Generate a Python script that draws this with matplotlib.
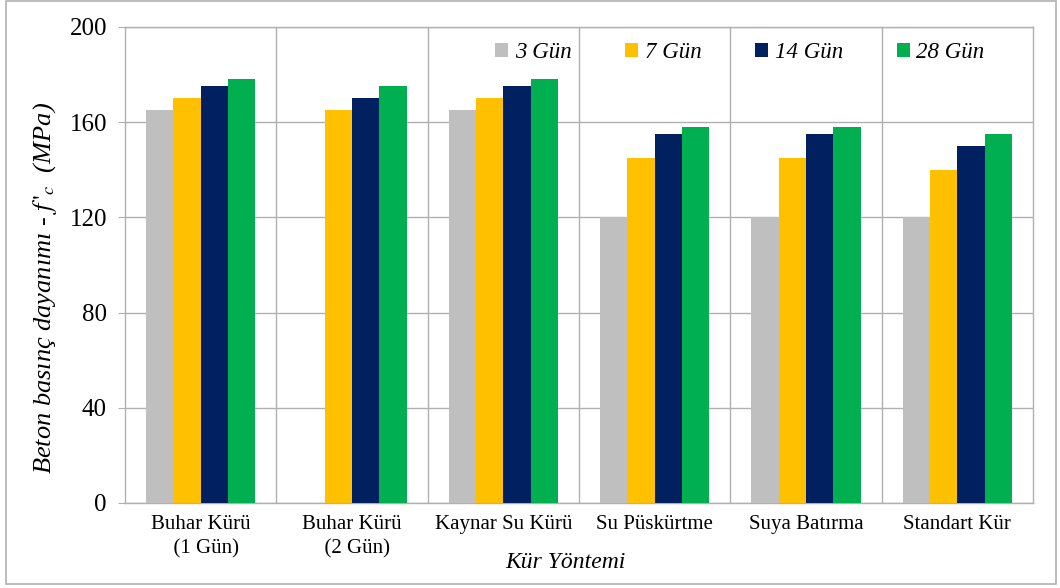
import numpy as np
import matplotlib
matplotlib.use("Agg")
import matplotlib.pyplot as plt
from matplotlib.patches import Rectangle

plt.rcParams['font.family'] = ['Liberation Serif', 'DejaVu Serif']
plt.rcParams['mathtext.fontset'] = 'stix'

# veriler
categories = ["Buhar Kürü\n  (1 Gün)", "Buhar Kürü\n  (2 Gün)", "Kaynar Su Kürü",
              "Su Püskürtme", "Suya Batırma", "Standart Kür"]
series_names = ["3 Gün", "7 Gün", "14 Gün", "28 Gün"]
gun3 = [165, 0, 165, 120, 120, 120]
gun7 = [170, 165, 170, 145, 145, 140]
gun14 = [175, 170, 175, 155, 155, 150]
gun28 = [178, 175, 178, 158, 158, 155]
y_ticks = [0, 40, 80, 120, 160, 200]

colors = ["#BFBFBF", "#FFC000", "#002060", "#00B050"]
grid_c = "#B0B0B0"

fig = plt.figure(figsize=(10.6, 5.88), dpi=100)
ax = fig.add_axes([0.1179, 0.1446, 0.8566, 0.8095])

x = np.arange(len(categories))
w = 0.181
for i, vals in enumerate([gun3, gun7, gun14, gun28]):
    ax.bar(x + (i - 1.5) * w, vals, width=w, color=colors[i],
           label=series_names[i], zorder=3)

ax.set_xlim(-0.5, len(categories) - 0.5)
ax.set_ylim(0, 200)
ax.set_yticks(y_ticks)
ax.set_xticks(x)
ax.set_xticklabels(categories, fontsize=15, linespacing=1.35)
ax.set_xticks(np.arange(0.5, len(categories) - 0.5, 1), minor=True)
ax.tick_params(axis='x', which='both', length=0, pad=9)
ax.tick_params(axis='y', length=5, color=grid_c, labelsize=18, pad=8)
ax.grid(axis='y', color=grid_c, lw=1.0, zorder=0)
ax.grid(axis='x', which='minor', color=grid_c, lw=1.0, zorder=0)
for sp in ax.spines.values():
    sp.set_color(grid_c)
    sp.set_linewidth(1.0)

ax.set_xlabel("Kür Yöntemi", fontsize=17, style='italic')
ax.xaxis.set_label_coords(0.485, -0.103)
fig.text(45 / 1060, 1 - 288 / 588, "Beton basınç dayanımı - $f\\,'_c$  (MPa)",
         rotation=90, ha='center', va='center', fontsize=19, style='italic')

ax.legend(loc='center', bbox_to_anchor=(740 / 1060, 1 - 53 / 588),
          bbox_transform=fig.transFigure, ncol=4, frameon=False,
          prop={'size': 16.5, 'style': 'italic'}, handlelength=0.55,
          handleheight=0.55, handletextpad=0.3, columnspacing=2.35)

# dış çerçeve
fig.patches.append(Rectangle((6 / 1060, 4 / 588), 1050 / 1060, 583 / 588,
                             transform=fig.transFigure, fill=False,
                             edgecolor=grid_c, lw=1.2))

fig.savefig("out.png", dpi=100)
